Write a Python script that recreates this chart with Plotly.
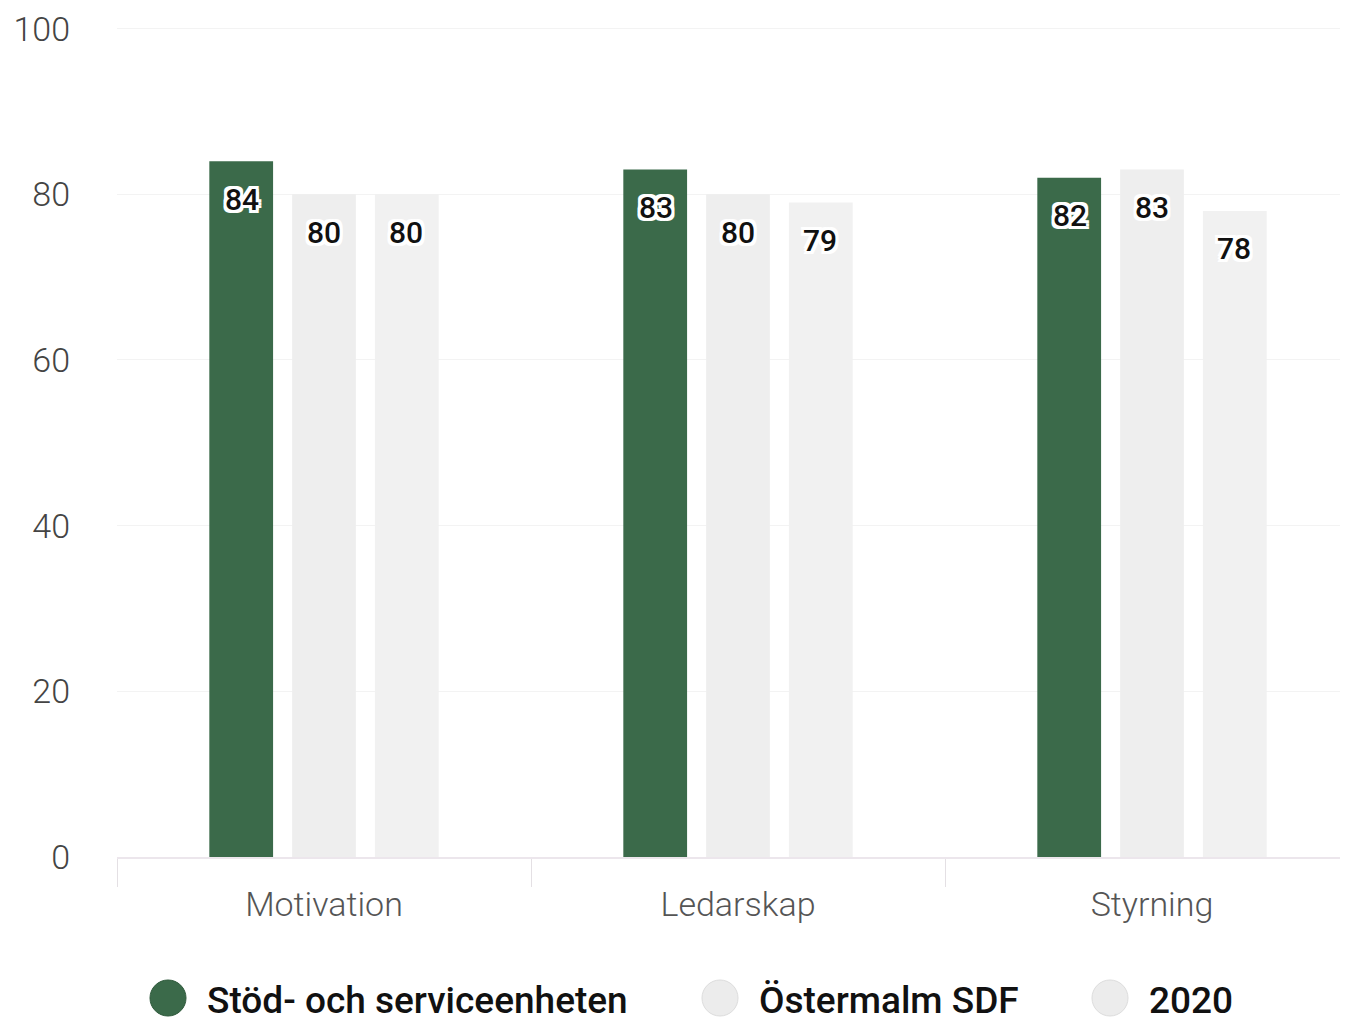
import plotly.graph_objects as go

CATEGORIES = ["Motivation", "Ledarskap", "Styrning"]
SERIES = ["Stöd- och serviceenheten", "Östermalm SDF", "2020"]
VALUES = [
    [84, 83, 82],
    [80, 80, 83],
    [80, 79, 78],
]
Y_TICKS = [0, 20, 40, 60, 80, 100]

COLORS = ["#3b6a4a", "#eeeeee", "#f1f1f1"]
OUTLINE = ", ".join(f"{dx}px {dy}px 0 white" for dx in (-3, 0, 3) for dy in (-3, 0, 3))

# page body has an 8px margin, so the figure is drawn 8px smaller
OFF = 8
W, H = 1348 - OFF, 1021 - OFF
L, R, T, B = 117 - OFF, 0, 27 - OFF, 164
SLOT = 0.198  # category units per bar slot

fig = go.Figure()
for i, (name, vals) in enumerate(zip(SERIES, VALUES)):
    fig.add_trace(go.Bar(
        x=CATEGORIES,
        y=vals,
        name=name,
        marker_color=COLORS[i],
        marker_line_width=0,
        showlegend=False,
        hovertemplate="%{x}: %{y}<extra>" + name + "</extra>",
    ))

# value labels, placed a bit below each bar's top
annotations = []
for i, vals in enumerate(VALUES):
    for c, v in enumerate(vals):
        annotations.append(dict(
            x=c + (i - 1) * SLOT, y=v, xref="x", yref="y",
            text=str(v), showarrow=False, yanchor="middle", yshift=-38,
            font=dict(family="Roboto", size=30, color="#111", weight=500,
                      shadow=OUTLINE),
        ))

# custom legend with large circles
pw = W - L - R
ph = H - T - B
legend_x = [168 - OFF, 720 - OFF, 1110 - OFF]
legend_y = 998 - OFF
shapes = []
for i, name in enumerate(SERIES):
    xp = (legend_x[i] - L) / pw
    yp = (H - B - legend_y) / ph
    shapes.append(dict(
        type="circle", xref="paper", yref="paper",
        xsizemode="pixel", ysizemode="pixel",
        xanchor=xp, yanchor=yp, x0=-18, x1=18, y0=-18, y1=18,
        fillcolor=COLORS[i] if i == 0 else "#ececec",
        line=dict(color="#dddddd" if i else "#2f5a3c", width=1),
    ))
    annotations.append(dict(
        x=(legend_x[i] + 37 - L) / pw, y=(H - B - legend_y - 2) / ph,
        xref="paper", yref="paper", xanchor="left", yanchor="middle",
        text=name, showarrow=False,
        font=dict(family="Roboto", size=37, color="#111", weight=500),
    ))

fig.update_layout(
    width=W, height=H,
    margin=dict(l=L, r=R, t=T, b=B),
    paper_bgcolor="white", plot_bgcolor="white",
    barmode="group", bargap=0.40, bargroupgap=0.23,
    font=dict(family="Roboto", size=32, color="#555"),
    showlegend=False,
    annotations=annotations,
    shapes=shapes,
)
fig.update_xaxes(
    range=[-0.5, 2.5 - 11 / 414],
    tickson="boundaries", ticks="outside", ticklen=28, tickcolor="#e4e0e4",
    ticklabelstandoff=16,
    showline=True, linecolor="#ece6ec", linewidth=2,
    tickfont=dict(family="Roboto", size=34, color="#555", weight=300),
    showgrid=False,
)
fig.update_yaxes(
    range=[0, 100.2], tickvals=Y_TICKS,
    gridcolor="#f3f3f3", gridwidth=1, zeroline=False,
    ticklabelstandoff=46, ticklabeloverflow="allow",
    tickfont=dict(family="Roboto", size=34, color="#444", weight=300),
)

fig.write_html("out.html")
